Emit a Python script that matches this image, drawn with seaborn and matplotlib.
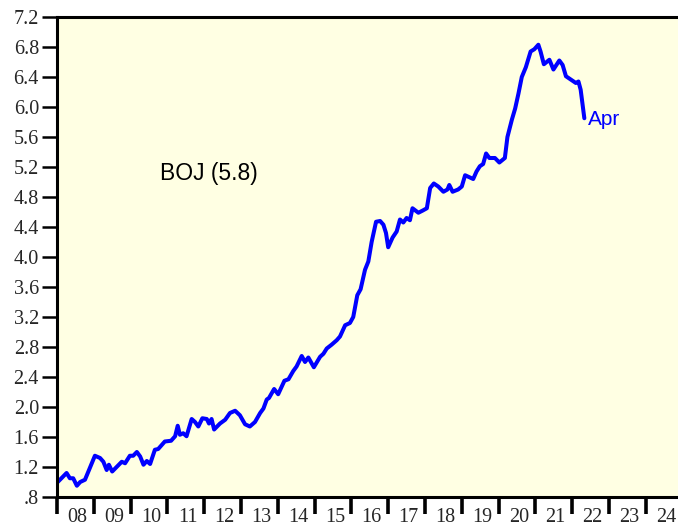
import numpy as np
import pandas as pd
import matplotlib
matplotlib.use('Agg')
import matplotlib.pyplot as plt
import seaborn as sns
from matplotlib.ticker import FixedLocator, NullFormatter


# time in years since Jan 2008, value
years_since_2008 = [
    0.00, 0.26, 0.35, 0.44, 0.54, 0.63, 0.76, 1.03, 1.17, 1.26, 1.35, 1.41,
    1.50, 1.62, 1.76, 1.85, 1.98, 2.07, 2.17, 2.26, 2.35, 2.44, 2.53, 2.66,
    2.75, 2.93, 3.10, 3.21, 3.28, 3.34, 3.43, 3.52, 3.66, 3.75, 3.84, 3.95,
    4.07, 4.13, 4.20, 4.27, 4.43, 4.57, 4.70, 4.84, 4.97, 5.11, 5.24, 5.38,
    5.52, 5.61, 5.70, 5.76, 5.90, 6.01, 6.18, 6.29, 6.42, 6.51, 6.65, 6.74,
    6.83, 6.98, 7.15, 7.24, 7.33, 7.46, 7.60, 7.69, 7.83, 7.96, 8.05, 8.16,
    8.25, 8.37, 8.46, 8.55, 8.67, 8.78, 8.87, 8.94, 9.00, 9.12, 9.23, 9.32,
    9.41, 9.50, 9.59, 9.66, 9.82, 9.94, 10.05, 10.14, 10.24, 10.36, 10.50,
    10.61, 10.66, 10.75, 10.90, 11.00, 11.09, 11.18, 11.31, 11.40, 11.49,
    11.58, 11.66, 11.75, 11.90, 12.02, 12.17, 12.24, 12.36, 12.45, 12.54,
    12.63, 12.74, 12.87, 12.97, 13.08, 13.14, 13.23, 13.38, 13.49, 13.65,
    13.74, 13.83, 13.98, 14.10, 14.17, 14.23, 14.33,
]
boj_values = [
    0.99, 1.12, 1.05, 1.05, 0.95, 1.00, 1.03, 1.35, 1.32, 1.27, 1.16, 1.23,
    1.14, 1.20, 1.27, 1.25, 1.35, 1.35, 1.40, 1.34, 1.23, 1.28, 1.24, 1.43,
    1.44, 1.54, 1.55, 1.61, 1.75, 1.63, 1.65, 1.61, 1.84, 1.80, 1.74, 1.85,
    1.84, 1.78, 1.84, 1.70, 1.78, 1.83, 1.92, 1.95, 1.89, 1.77, 1.74, 1.80,
    1.92, 1.98, 2.10, 2.12, 2.24, 2.17, 2.35, 2.37, 2.48, 2.54, 2.68, 2.60,
    2.66, 2.53, 2.67, 2.71, 2.78, 2.83, 2.89, 2.94, 3.09, 3.12, 3.20, 3.49,
    3.57, 3.83, 3.94, 4.20, 4.47, 4.48, 4.43, 4.32, 4.13, 4.26, 4.34, 4.50,
    4.46, 4.52, 4.49, 4.65, 4.59, 4.62, 4.65, 4.92, 4.98, 4.94, 4.87,
    4.90, 4.96, 4.87, 4.90, 4.94, 5.09, 5.07, 5.04, 5.14, 5.21,
    5.24, 5.38, 5.32, 5.32, 5.26, 5.32, 5.60, 5.83, 5.98, 6.18,
    6.40, 6.53, 6.74, 6.77, 6.83, 6.74, 6.57, 6.63, 6.50, 6.62,
    6.56, 6.41, 6.36, 6.32, 6.34, 6.23, 5.85,
]
y_ticks = [0.8, 1.2, 1.6, 2.0, 2.4, 2.8, 3.2, 3.6, 4.0, 4.4, 4.8, 5.2, 5.6, 6.0, 6.4, 6.8, 7.2]
year_labels = ['08', '09', '10', '11', '12', '13', '14', '15', '16', '17', '18', '19', '20', '21', '22', '23', '24']

df = pd.DataFrame({'t': years_since_2008, 'boj': boj_values})

sns.set_style('white')
plt.rcParams['font.family'] = ['Liberation Serif', 'DejaVu Serif']

fig = plt.figure(figsize=(6.78, 5.27), dpi=100)
ax = fig.add_axes([57 / 678, 1 - 497 / 527, 1 - 57 / 678, (497 - 17) / 527])
ax.set_facecolor('#FFFFE3')

sns.lineplot(data=df, x='t', y='boj', ax=ax, color='#0000FF', linewidth=2.9, sort=False)

ax.set_xlim(0, (678 - 57) / 36.8)
ax.set_ylim(0.8, 7.2)

ax.set_yticks(y_ticks)
ax.set_yticklabels([f'{v:.1f}'.lstrip('0') for v in y_ticks])

# year boundaries as ticks, labels in the middle of each year
ax.xaxis.set_major_locator(FixedLocator(np.arange(0, 18)))
ax.xaxis.set_major_formatter(NullFormatter())
ax.xaxis.set_minor_locator(FixedLocator(np.arange(len(year_labels)) + 0.55))
ax.set_xticklabels(year_labels, minor=True)

ax.tick_params(axis='x', which='major', direction='out', length=12, width=2.6, color='black')
ax.tick_params(axis='x', which='minor', length=0, pad=8, labelsize=14.5)
ax.tick_params(axis='y', direction='out', length=11, width=1.8, color='black', pad=2, labelsize=14.5)
ax.tick_params(left=True, bottom=True)

for side in ['left', 'top', 'bottom']:
    ax.spines[side].set_visible(True)
    ax.spines[side].set_color('black')
    ax.spines[side].set_linewidth(2.2)
ax.spines['right'].set_visible(False)

ax.set_xlabel('')
ax.set_ylabel('')

ax.text(2.80, 5.12, 'BOJ (5.8)', fontsize=16.5, family=['Liberation Sans', 'DejaVu Sans'],
        color='black', ha='left', va='center')
ax.text(14.43, 5.84, 'Apr', fontsize=15, family=['Liberation Sans', 'DejaVu Sans'],
        color='#0000FF', ha='left', va='center')

fig.savefig('out.png', dpi=100)
